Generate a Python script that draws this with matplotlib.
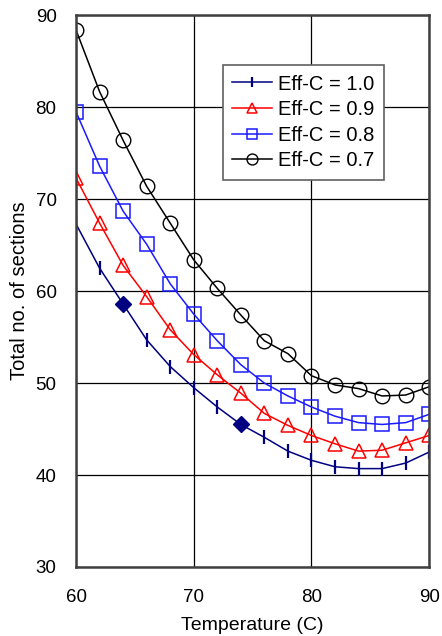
import numpy as np
import matplotlib
matplotlib.use("Agg")
import matplotlib.pyplot as plt

plt.rcParams["font.family"] = ["Liberation Sans", "DejaVu Sans"]

# 温度 (C)
temperature = [60, 62, 64, 66, 68, 70, 72, 74, 76, 78, 80, 82, 84, 86, 88, 90]

# total no. of sections for each Eff-C
eff_10 = [67.3, 62.5, 58.6, 54.7, 51.8, 49.5, 47.4, 45.5, 44.1, 42.6, 41.6, 40.9, 40.7, 40.7, 41.3, 42.5]
eff_09 = [72.3, 67.4, 62.8, 59.4, 55.8, 53.1, 50.9, 48.9, 46.7, 45.4, 44.3, 43.4, 42.6, 42.7, 43.5, 44.3]
eff_08 = [79.5, 73.6, 68.7, 65.1, 60.8, 57.5, 54.6, 52.0, 50.0, 48.6, 47.4, 46.4, 45.7, 45.5, 45.7, 46.6]
eff_07 = [88.4, 81.7, 76.4, 71.4, 67.4, 63.4, 60.3, 57.4, 54.6, 53.2, 50.8, 49.8, 49.4, 48.6, 48.7, 49.6]

# highlighted points on the Eff-C = 1.0 curve
diamond_x = [64, 74]
diamond_y = [58.6, 45.5]

labels = ["Eff-C = 1.0", "Eff-C = 0.9", "Eff-C = 0.8", "Eff-C = 0.7"]

fig = plt.figure(figsize=(4.42, 6.36), dpi=100)
ax = fig.add_axes([0.172, 0.1085, 0.799, 0.8675])

ax.plot(temperature, eff_10, color="#000080", lw=1.1, marker="|", ms=10, mew=1.6,
        label=labels[0])
ax.plot(temperature, eff_09, color="#ff0000", lw=1.1, marker="^", ms=10, mew=1.1,
        mfc="none", label=labels[1])
ax.plot(temperature, eff_08, color="#1a1aff", lw=1.1, marker="s", ms=10, mew=1.1,
        mfc="none", label=labels[2])
ax.plot(temperature, eff_07, color="#000000", lw=1.1, marker="o", ms=10.5, mew=1.0,
        mfc="none", label=labels[3])
ax.plot(diamond_x, diamond_y, ls="none", marker="D", ms=8, color="#000080")

ax.set_xlim(60, 90)
ax.set_ylim(30, 90)
ax.set_xticks([60, 70, 80, 90])
ax.set_yticks([30, 40, 50, 60, 70, 80, 90])
ax.tick_params(length=0, labelsize=13.5, pad=14)
ax.tick_params(axis="x", pad=16)
ax.grid(True, color="black", lw=0.9)
for s in ax.spines.values():
    s.set_color("#404040")
    s.set_linewidth(1.8)

ax.set_xlabel("Temperature (C)", fontsize=14, labelpad=8)
ax.set_ylabel("Total no. of sections", fontsize=14.5, labelpad=5)

leg = ax.legend(loc="upper left", bbox_to_anchor=(0.416, 0.909), fontsize=14.5,
                fancybox=False, framealpha=1, edgecolor="#606060",
                handlelength=2.0, handletextpad=0.3, labelspacing=0.33,
                borderpad=0.45, borderaxespad=0, markerscale=0.75)
leg.get_frame().set_linewidth(1.2)

fig.savefig("out.png", dpi=100)
